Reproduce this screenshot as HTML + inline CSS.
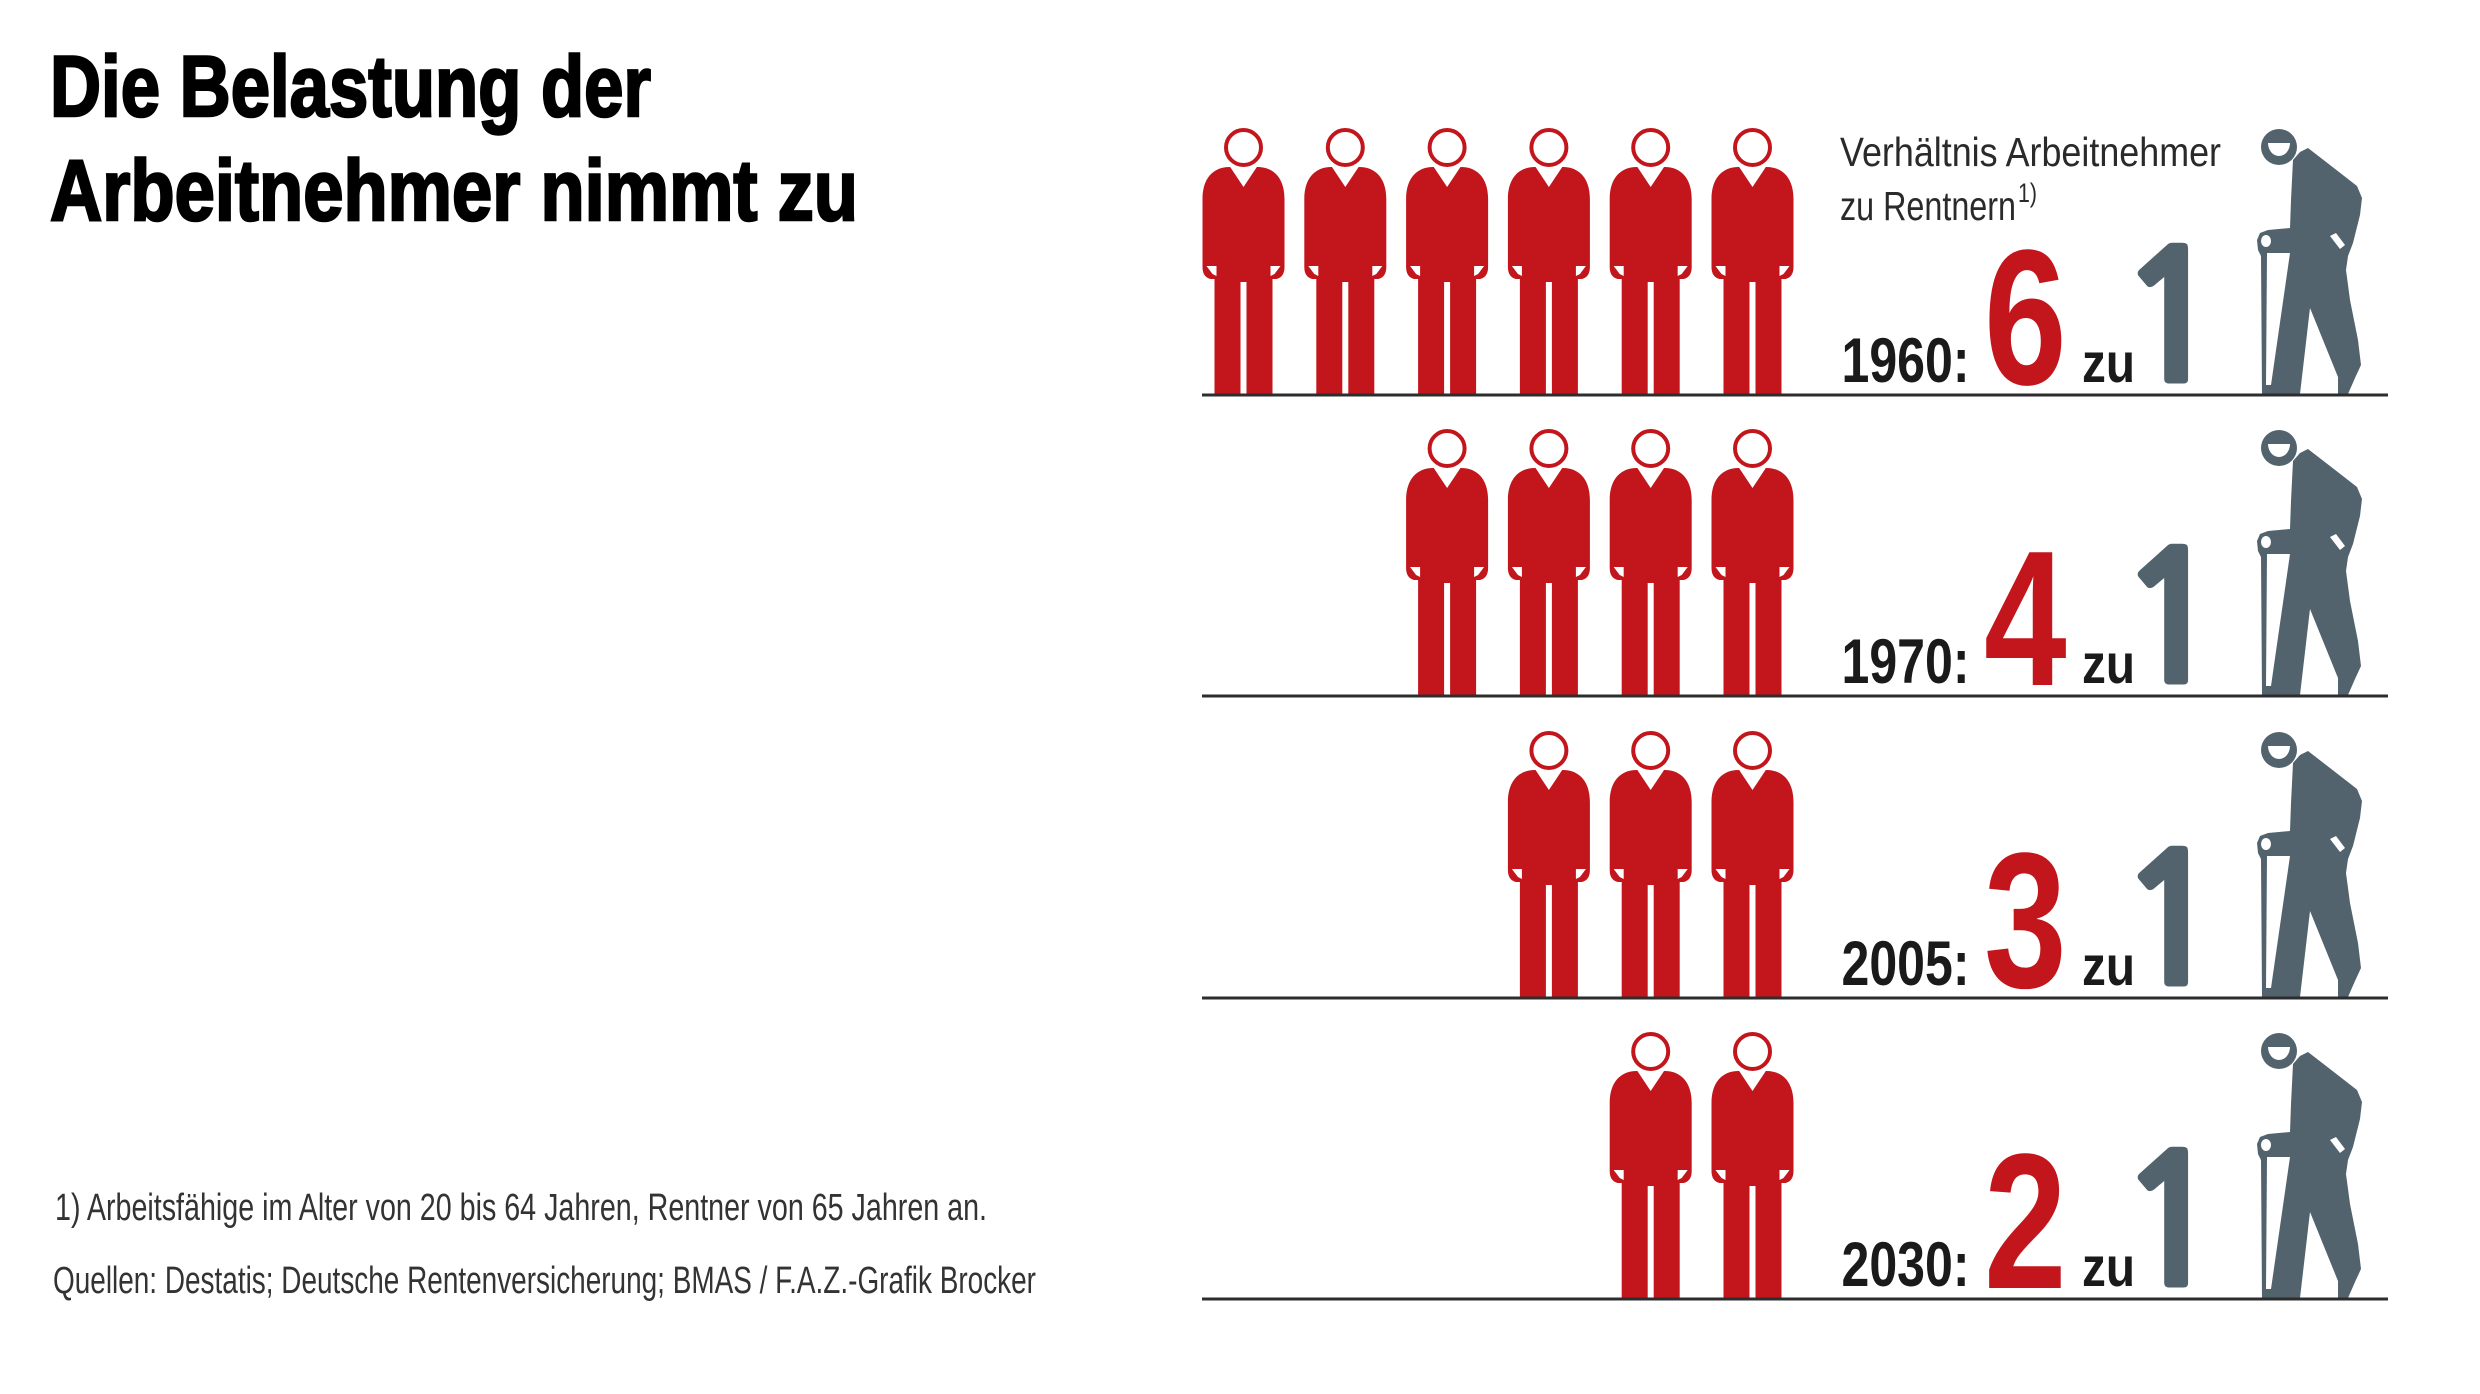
<!DOCTYPE html>
<html>
<head>
<meta charset="utf-8">
<style>
html,body{margin:0;padding:0;background:#fff;}
svg{display:block;}
</style>
</head>
<body>
<svg width="2480" height="1394" viewBox="0 0 2480 1394" xmlns="http://www.w3.org/2000/svg" font-family="'Liberation Sans', Arial, sans-serif">
<defs>
  <g id="w">
    <path fill="#c3161c" d="M-14,-228 L14,-228 C30,-228 41,-217 41,-196 L41,-128 Q41,-118 33,-116 L29,-116 L29,0 L3,0 L3,-113 L-3,-113 L-3,0 L-29,0 L-29,-116 L-33,-116 Q-41,-118 -41,-128 L-41,-196 C-41,-217 -30,-228 -14,-228 Z"/>
    <path fill="#fff" d="M-14,-229 L14,-229 L0,-208 Z"/>
    <path fill="#fff" d="M-37,-129 L-27,-129 L-27,-119 L-31,-121 Z"/>
    <path fill="#fff" d="M37,-129 L27,-129 L27,-119 L31,-121 Z"/>
    <circle cx="0" cy="-247.5" r="17.5" fill="#fff" stroke="#c3161c" stroke-width="4"/>
  </g>
  <g id="m">
    <path fill="#52636d" d="M2293,160 L2300,152 L2308,148 L2330,165 L2357,186 L2362,198 L2360,215 L2353,243 L2348,256 L2346,270 L2350,300 L2358,340 L2361,365 L2355,378 L2348,394 L2338,394 L2338,377 L2310,308 L2300,394 L2262,394 L2261,256 L2258,250 L2257,240 L2260,233 L2268,230 L2290,228 L2291,200 Z"/>
    <path fill="#fff" d="M2267,253 L2290,253 L2271,385 L2266,385 Z"/>
    <ellipse cx="2266" cy="241" rx="5" ry="6" fill="#fff"/>
    <path fill="#fff" d="M2330,236 L2336,233 L2345,245 L2340,249 Z"/>
    <circle cx="2279" cy="147" r="18" fill="#52636d"/>
    <path fill="#fff" d="M2268,143 L2290,143 A11,13 0 0 1 2268,143 Z"/>
  </g>
</defs>

<!-- Title -->
<text x="50" y="116" font-size="86" font-weight="bold" fill="#000" stroke="#000" stroke-width="2.5" textLength="601" lengthAdjust="spacingAndGlyphs">Die Belastung der</text>
<text x="50" y="220" font-size="86" font-weight="bold" fill="#000" stroke="#000" stroke-width="2.5" textLength="808" lengthAdjust="spacingAndGlyphs">Arbeitnehmer nimmt zu</text>

<!-- Footnotes -->
<text x="55" y="1220" font-size="38" fill="#333" textLength="932" lengthAdjust="spacingAndGlyphs">1) Arbeitsfähige im Alter von 20 bis 64 Jahren, Rentner von 65 Jahren an.</text>
<text x="53" y="1293" font-size="38" fill="#333" textLength="983" lengthAdjust="spacingAndGlyphs">Quellen: Destatis; Deutsche Rentenversicherung; BMAS / F.A.Z.-Grafik Brocker</text>

<!-- Header -->
<text x="1840" y="166" font-size="41" fill="#2a2a2a" textLength="381" lengthAdjust="spacingAndGlyphs">Verhältnis Arbeitnehmer</text>
<text x="1840" y="220" font-size="41" fill="#2a2a2a" textLength="176" lengthAdjust="spacingAndGlyphs">zu Rentnern</text>
<text x="2018" y="202" font-size="27" fill="#2a2a2a" textLength="19" lengthAdjust="spacingAndGlyphs">1)</text>

<!-- Row 1: 1960 -->
<use href="#w" x="1243.5" y="395"/>
<use href="#w" x="1345.3" y="395"/>
<use href="#w" x="1447.1" y="395"/>
<use href="#w" x="1548.9" y="395"/>
<use href="#w" x="1650.7" y="395"/>
<use href="#w" x="1752.5" y="395"/>
<use href="#m" x="0" y="0"/>
<line x1="1202" y1="395" x2="2388" y2="395" stroke="#2d2d2d" stroke-width="3"/>
<text x="1841.5" y="382" font-size="63" font-weight="bold" fill="#1a1a1a" textLength="128" lengthAdjust="spacingAndGlyphs">1960:</text>
<text transform="translate(1984,384) scale(0.77,1)" font-size="193" font-weight="bold" fill="#c3161c">6</text>
<text x="2082" y="382" font-size="56" font-weight="bold" fill="#1a1a1a" textLength="53" lengthAdjust="spacingAndGlyphs">zu</text>
<text x="2116" y="381" font-family="NanumGothic, 'WenQuanYi Zen Hei', sans-serif" font-size="180" font-weight="bold" fill="#52636d" stroke="#52636d" stroke-width="4" textLength="112" lengthAdjust="spacingAndGlyphs">1</text>

<!-- Row 2: 1970 -->
<use href="#w" x="1447.1" y="696"/>
<use href="#w" x="1548.9" y="696"/>
<use href="#w" x="1650.7" y="696"/>
<use href="#w" x="1752.5" y="696"/>
<use href="#m" x="0" y="301"/>
<line x1="1202" y1="696" x2="2388" y2="696" stroke="#2d2d2d" stroke-width="3"/>
<text x="1841.5" y="683" font-size="63" font-weight="bold" fill="#1a1a1a" textLength="128" lengthAdjust="spacingAndGlyphs">1970:</text>
<text transform="translate(1984,685) scale(0.77,1)" font-size="193" font-weight="bold" fill="#c3161c">4</text>
<text x="2082" y="683" font-size="56" font-weight="bold" fill="#1a1a1a" textLength="53" lengthAdjust="spacingAndGlyphs">zu</text>
<text x="2116" y="682" font-family="NanumGothic, 'WenQuanYi Zen Hei', sans-serif" font-size="180" font-weight="bold" fill="#52636d" stroke="#52636d" stroke-width="4" textLength="112" lengthAdjust="spacingAndGlyphs">1</text>

<!-- Row 3: 2005 -->
<use href="#w" x="1548.9" y="998"/>
<use href="#w" x="1650.7" y="998"/>
<use href="#w" x="1752.5" y="998"/>
<use href="#m" x="0" y="603"/>
<line x1="1202" y1="998" x2="2388" y2="998" stroke="#2d2d2d" stroke-width="3"/>
<text x="1841.5" y="985" font-size="63" font-weight="bold" fill="#1a1a1a" textLength="128" lengthAdjust="spacingAndGlyphs">2005:</text>
<text transform="translate(1984,987) scale(0.77,1)" font-size="193" font-weight="bold" fill="#c3161c">3</text>
<text x="2082" y="985" font-size="56" font-weight="bold" fill="#1a1a1a" textLength="53" lengthAdjust="spacingAndGlyphs">zu</text>
<text x="2116" y="984" font-family="NanumGothic, 'WenQuanYi Zen Hei', sans-serif" font-size="180" font-weight="bold" fill="#52636d" stroke="#52636d" stroke-width="4" textLength="112" lengthAdjust="spacingAndGlyphs">1</text>

<!-- Row 4: 2030 -->
<use href="#w" x="1650.7" y="1299"/>
<use href="#w" x="1752.5" y="1299"/>
<use href="#m" x="0" y="904"/>
<line x1="1202" y1="1299" x2="2388" y2="1299" stroke="#2d2d2d" stroke-width="3"/>
<text x="1841.5" y="1286" font-size="63" font-weight="bold" fill="#1a1a1a" textLength="128" lengthAdjust="spacingAndGlyphs">2030:</text>
<text transform="translate(1984,1288) scale(0.77,1)" font-size="193" font-weight="bold" fill="#c3161c">2</text>
<text x="2082" y="1286" font-size="56" font-weight="bold" fill="#1a1a1a" textLength="53" lengthAdjust="spacingAndGlyphs">zu</text>
<text x="2116" y="1285" font-family="NanumGothic, 'WenQuanYi Zen Hei', sans-serif" font-size="180" font-weight="bold" fill="#52636d" stroke="#52636d" stroke-width="4" textLength="112" lengthAdjust="spacingAndGlyphs">1</text>
</svg>
</body>
</html>
